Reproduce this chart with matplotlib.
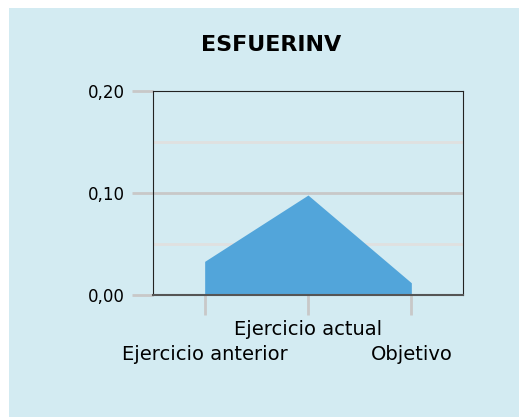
import numpy as np
import matplotlib.pyplot as plt
from matplotlib.patches import Rectangle

# datos
categorias = ["Ejercicio anterior", "Ejercicio actual", "Objetivo"]
valores = [0.033, 0.098, 0.012]
yticks = [0.0, 0.10, 0.20]
ytick_labels = ["0,00", "0,10", "0,20"]
grid_y = [0.05, 0.10, 0.15]
titulo = "ESFUERINV"

plt.rcParams['font.family'] = ['DejaVu Sans']

fig = plt.figure(figsize=(5.19, 4.17), dpi=100)
fig.patch.set_facecolor("white")
# panel azul de fondo
fig.patches.append(Rectangle((9 / 519, 0), 1, 1 - 8 / 417, transform=fig.transFigure,
                             facecolor="#d3ebf2", edgecolor="none", zorder=-1))

ax = fig.add_axes([153 / 519, 1 - 295 / 417, 310 / 519, 204 / 417])
ax.set_facecolor("#d3ebf2")

x = np.arange(len(categorias))
ax.fill_between(x, 0, valores, color="#52a5da", linewidth=0, zorder=3)

# rejilla: la de los ticks principales algo más oscura
for g in grid_y:
    col = "#c8c8c8" if g in yticks else "#e0e0e0"
    ax.axhline(g, color=col, linewidth=2, zorder=1)

ax.set_xlim(-0.5, len(categorias) - 0.5)
ax.set_ylim(0, 0.20)

ax.set_yticks(yticks)
ax.set_yticklabels(ytick_labels, fontsize=12)
ax.tick_params(axis="y", length=15, width=2, color="#c8c8c8", pad=5)

ax.set_xticks(x)
ax.set_xticklabels(categorias, fontsize=14)
ax.tick_params(axis="x", length=14.5, width=2, color="#c8c8c8")
# etiquetas escalonadas
for i, t in enumerate(ax.xaxis.get_major_ticks()):
    t.set_pad(3.5 if i % 2 == 1 else 21.5)

for s in ["left", "top", "right"]:
    ax.spines[s].set_color("#222222")
    ax.spines[s].set_linewidth(0.8)
ax.spines["bottom"].set_color("#555555")
ax.spines["bottom"].set_linewidth(1.5)
ax.spines["bottom"].set_zorder(4)

fig.text(271 / 519, 1 - 45 / 417, titulo, ha="center", va="center",
         fontsize=16, fontweight="bold")

plt.savefig("out.png", dpi=100)
